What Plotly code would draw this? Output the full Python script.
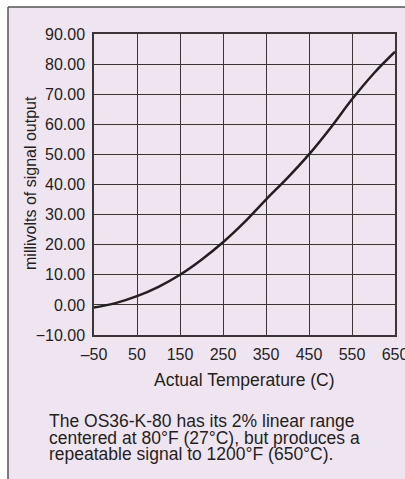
import plotly.graph_objects as go

temps_c = [-50, 0, 50, 100, 150, 200, 250, 300, 350, 400, 450, 500, 550, 600, 650]
millivolts = [-0.9, 0.6, 2.9, 6.0, 10.0, 15.0, 20.8, 27.5, 35.0, 42.2, 50.0, 58.8, 68.3, 76.8, 84.1]

x_ticks = [-50, 50, 150, 250, 350, 450, 550, 650]
y_ticks = [-10, 0, 10, 20, 30, 40, 50, 60, 70, 80, 90]
y_tick_labels = ["\u221210.00", "0.00", "10.00", "20.00", "30.00", "40.00",
                 "50.00", "60.00", "70.00", "80.00", "90.00"]
x_tick_labels = ["\u201350", "50", "150", "250", "350", "450", "550", "650"]

caption_lines = [
    "The OS36-K-80 has its 2% linear range",
    "centered at 80\u00b0F (27\u00b0C), but produces a",
    "repeatable signal to 1200\u00b0F (650\u00b0C).",
]

W, H = 405, 479
L, R, T, B = 94, 10, 34, 144
PW = W - L - R
PH = H - T - B

def px(x):
    return (x - L) / PW

def py(y):
    return (H - B - y) / PH

BG = "#EFE5F1"
GRID = "#3a3536"
TXT = "#231F20"
FONT = "Liberation Sans"

fig = go.Figure()
fig.add_trace(go.Scatter(
    x=temps_c, y=millivolts, mode="lines",
    line=dict(color=TXT, width=2.5, shape="spline", smoothing=1.0),
    hoverinfo="skip", showlegend=False,
))

shapes = [
    # white strip above the panel
    dict(type="rect", xref="paper", yref="paper", layer="above",
         x0=px(-20), x1=px(430), y0=py(7), y1=py(-20),
         fillcolor="white", line=dict(width=0)),
    # white strip left of the panel
    dict(type="rect", xref="paper", yref="paper", layer="above",
         x0=px(-20), x1=px(8), y0=py(500), y1=py(-20),
         fillcolor="white", line=dict(width=0)),
    # panel border lines (top and left)
    dict(type="line", xref="paper", yref="paper", layer="above",
         x0=px(8), x1=px(430), y0=py(7), y1=py(7),
         line=dict(color="#555555", width=1.5)),
    dict(type="line", xref="paper", yref="paper", layer="above",
         x0=px(8), x1=px(8), y0=py(7), y1=py(500),
         line=dict(color="#555555", width=1.5)),
]

annotations = [
    dict(text="millivolts of signal output", xref="paper", yref="paper",
         x=px(30), y=py(183), textangle=-90, showarrow=False,
         font=dict(family=FONT, size=16, color=TXT),
         xanchor="center", yanchor="middle"),
    dict(text="Actual Temperature (C)", xref="paper", yref="paper",
         x=px(244), y=py(380), showarrow=False,
         font=dict(family=FONT, size=17.5, color=TXT),
         xanchor="center", yanchor="middle"),
]
for i, line in enumerate(caption_lines):
    annotations.append(dict(
        text=line, xref="paper", yref="paper",
        x=px(47), y=py(421 + i * 16.5), showarrow=False,
        font=dict(family=FONT, size=17.5, color=TXT),
        xanchor="left", yanchor="middle"))

fig.update_layout(
    width=W, height=H,
    margin=dict(l=L, r=R, t=T, b=B, autoexpand=False),
    paper_bgcolor=BG,
    plot_bgcolor=BG,
    shapes=shapes,
    annotations=annotations,
    xaxis=dict(
        range=[-50, 650], tickmode="array", tickvals=x_ticks, ticktext=x_tick_labels,
        showgrid=True, gridcolor=GRID, gridwidth=1.3, zeroline=False,
        showline=True, linecolor=GRID, linewidth=1.5, mirror=True,
        ticks="", ticklabelstandoff=4, ticklabeloverflow="allow",
        tickfont=dict(family=FONT, size=16, color=TXT),
        fixedrange=True,
    ),
    yaxis=dict(
        range=[-10, 90], tickmode="array", tickvals=y_ticks, ticktext=y_tick_labels,
        showgrid=True, gridcolor=GRID, gridwidth=1.3, zeroline=False,
        showline=True, linecolor=GRID, linewidth=1.5, mirror=True,
        ticks="", ticklabelstandoff=4, ticklabeloverflow="allow",
        tickfont=dict(family=FONT, size=16, color=TXT),
        fixedrange=True,
    ),
)

fig.write_html("out.html", config={"displayModeBar": False},
               post_script="document.body.style.margin='0';")
